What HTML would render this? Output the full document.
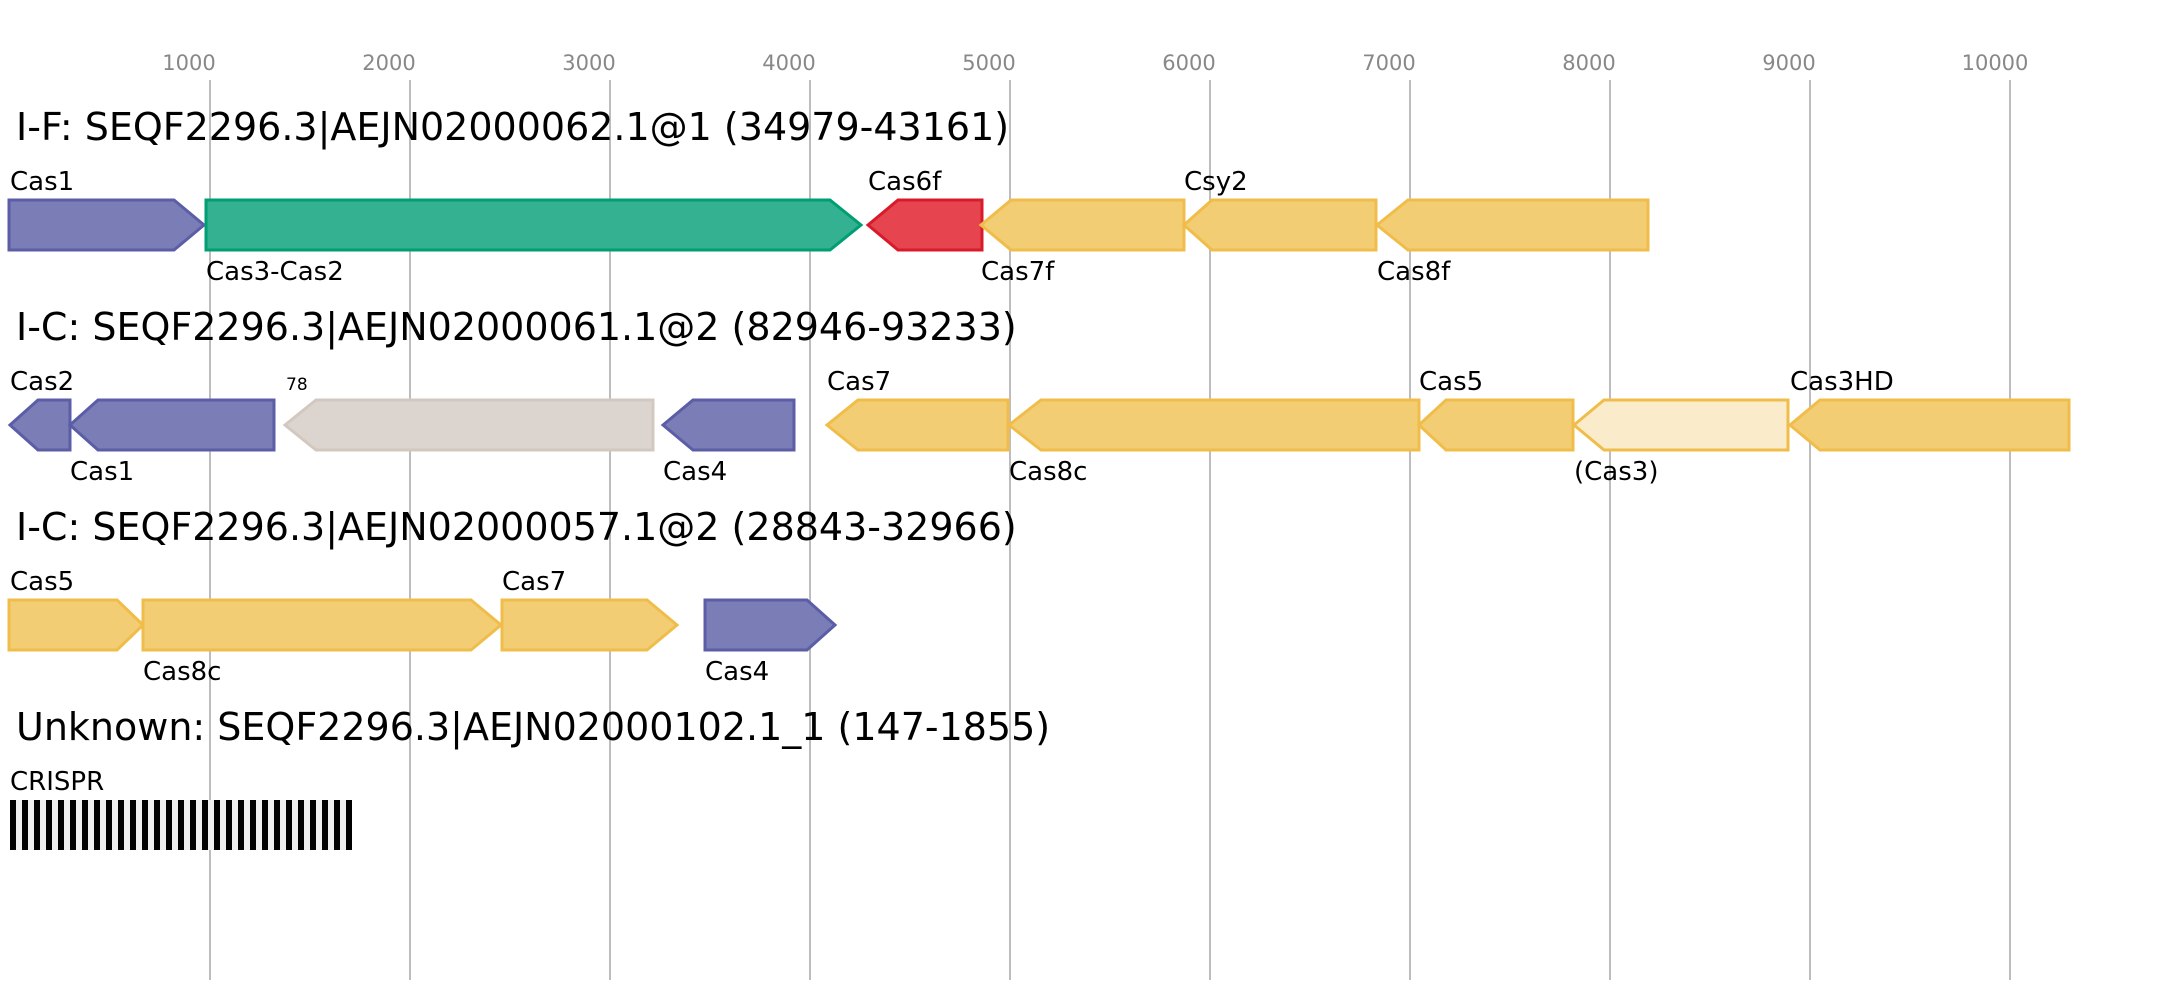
<!DOCTYPE html>
<html><head><meta charset="utf-8"><style>
html,body{margin:0;padding:0;background:#fff;}
svg{display:block;font-family:"DejaVu Sans","Liberation Sans",sans-serif;}
</style></head><body>
<svg width="2157" height="1000" viewBox="0 0 2157 1000" xmlns="http://www.w3.org/2000/svg">
<g stroke="#bdbdbd" stroke-width="2">
<line x1="210" y1="80" x2="210" y2="980"/><line x1="410" y1="80" x2="410" y2="980"/>
<line x1="610" y1="80" x2="610" y2="980"/><line x1="810" y1="80" x2="810" y2="980"/>
<line x1="1010" y1="80" x2="1010" y2="980"/><line x1="1210" y1="80" x2="1210" y2="980"/>
<line x1="1410" y1="80" x2="1410" y2="980"/><line x1="1610" y1="80" x2="1610" y2="980"/>
<line x1="1810" y1="80" x2="1810" y2="980"/><line x1="2010" y1="80" x2="2010" y2="980"/>
</g>
<g fill="#888" font-size="21" text-anchor="middle">
<text x="189" y="70">1000</text><text x="389" y="70">2000</text><text x="589" y="70">3000</text>
<text x="789" y="70">4000</text><text x="989" y="70">5000</text><text x="1189" y="70">6000</text>
<text x="1389" y="70">7000</text><text x="1589" y="70">8000</text><text x="1789" y="70">9000</text>
<text x="1995" y="70">10000</text>
</g>
<g font-size="38" fill="#000">
<text x="16" y="140">I-F: SEQF2296.3|AEJN02000062.1@1 (34979-43161)</text>
<text x="16" y="340">I-C: SEQF2296.3|AEJN02000061.1@2 (82946-93233)</text>
<text x="16" y="540">I-C: SEQF2296.3|AEJN02000057.1@2 (28843-32966)</text>
<text x="16" y="740">Unknown: SEQF2296.3|AEJN02000102.1_1 (147-1855)</text>
</g>
<g stroke-width="3">
<!-- row 1 -->
<polygon points="9,200 174,200 204,225 174,250 9,250" fill="#7b7db6" stroke="#5b5ea6"/>
<polygon points="206,200 830,200 861,225 830,250 206,250" fill="#33b191" stroke="#009e73"/>
<polygon points="868,225 898,200 982,200 982,250 898,250" fill="#e6444f" stroke="#d81b2a"/>
<polygon points="981,225 1011,200 1184,200 1184,250 1011,250" fill="#f2cd74" stroke="#f0bd4a"/>
<polygon points="1184,225 1212,200 1376,200 1376,250 1212,250" fill="#f2cd74" stroke="#f0bd4a"/>
<polygon points="1377,225 1408,200 1648,200 1648,250 1408,250" fill="#f2cd74" stroke="#f0bd4a"/>
<!-- row 2 -->
<polygon points="10,425 38,400 70,400 70,450 38,450" fill="#7b7db6" stroke="#5b5ea6"/>
<polygon points="70,425 98,400 274,400 274,450 98,450" fill="#7b7db6" stroke="#5b5ea6"/>
<polygon points="285,425 316,400 653,400 653,450 316,450" fill="#dcd4ce" stroke="#d2c8c0"/>
<polygon points="663,425 693,400 794,400 794,450 693,450" fill="#7b7db6" stroke="#5b5ea6"/>
<polygon points="827,425 858,400 1008,400 1008,450 858,450" fill="#f2cd74" stroke="#f0bd4a"/>
<polygon points="1009,425 1041,400 1419,400 1419,450 1041,450" fill="#f2cd74" stroke="#f0bd4a"/>
<polygon points="1419,425 1446,400 1573,400 1573,450 1446,450" fill="#f2cd74" stroke="#f0bd4a"/>
<polygon points="1574,425 1604,400 1788,400 1788,450 1604,450" fill="#faebca" stroke="#f0bd4a"/>
<polygon points="1790,425 1820,400 2069,400 2069,450 1820,450" fill="#f2cd74" stroke="#f0bd4a"/>
<!-- row 3 -->
<polygon points="9,600 117,600 143,625 117,650 9,650" fill="#f2cd74" stroke="#f0bd4a"/>
<polygon points="143,600 471,600 501,625 471,650 143,650" fill="#f2cd74" stroke="#f0bd4a"/>
<polygon points="502,600 647,600 677,625 647,650 502,650" fill="#f2cd74" stroke="#f0bd4a"/>
<polygon points="705,600 807,600 835,625 807,650 705,650" fill="#7b7db6" stroke="#5b5ea6"/>
</g>
<g font-size="26" fill="#000">
<text x="10" y="190">Cas1</text><text x="206" y="280">Cas3-Cas2</text><text x="868" y="190">Cas6f</text>
<text x="981" y="280">Cas7f</text><text x="1184" y="190">Csy2</text><text x="1377" y="280">Cas8f</text>
<text x="10" y="390">Cas2</text><text x="70" y="480">Cas1</text><text x="663" y="480">Cas4</text>
<text x="827" y="390">Cas7</text><text x="1009" y="480">Cas8c</text><text x="1419" y="390">Cas5</text>
<text x="1574" y="480">(Cas3)</text><text x="1790" y="390">Cas3HD</text>
<text x="10" y="590">Cas5</text><text x="143" y="680">Cas8c</text><text x="502" y="590">Cas7</text>
<text x="705" y="680">Cas4</text>
<text x="10" y="790">CRISPR</text>
</g>
<text x="286" y="390" font-size="17" fill="#000">78</text>
<rect x="10" y="800" width="342" height="50" fill="#eeeeee"/>
<g fill="#000">
<rect x="10" y="800" width="6" height="50"/><rect x="22" y="800" width="6" height="50"/>
<rect x="34" y="800" width="6" height="50"/><rect x="46" y="800" width="6" height="50"/>
<rect x="58" y="800" width="6" height="50"/><rect x="70" y="800" width="6" height="50"/>
<rect x="82" y="800" width="6" height="50"/><rect x="94" y="800" width="6" height="50"/>
<rect x="106" y="800" width="6" height="50"/><rect x="118" y="800" width="6" height="50"/>
<rect x="130" y="800" width="6" height="50"/><rect x="142" y="800" width="6" height="50"/>
<rect x="154" y="800" width="6" height="50"/><rect x="166" y="800" width="6" height="50"/>
<rect x="178" y="800" width="6" height="50"/><rect x="190" y="800" width="6" height="50"/>
<rect x="202" y="800" width="6" height="50"/><rect x="214" y="800" width="6" height="50"/>
<rect x="226" y="800" width="6" height="50"/><rect x="238" y="800" width="6" height="50"/>
<rect x="250" y="800" width="6" height="50"/><rect x="262" y="800" width="6" height="50"/>
<rect x="274" y="800" width="6" height="50"/><rect x="286" y="800" width="6" height="50"/>
<rect x="298" y="800" width="6" height="50"/><rect x="310" y="800" width="6" height="50"/>
<rect x="322" y="800" width="6" height="50"/><rect x="334" y="800" width="6" height="50"/>
<rect x="346" y="800" width="6" height="50"/>
</g>
</svg>
</body></html>
